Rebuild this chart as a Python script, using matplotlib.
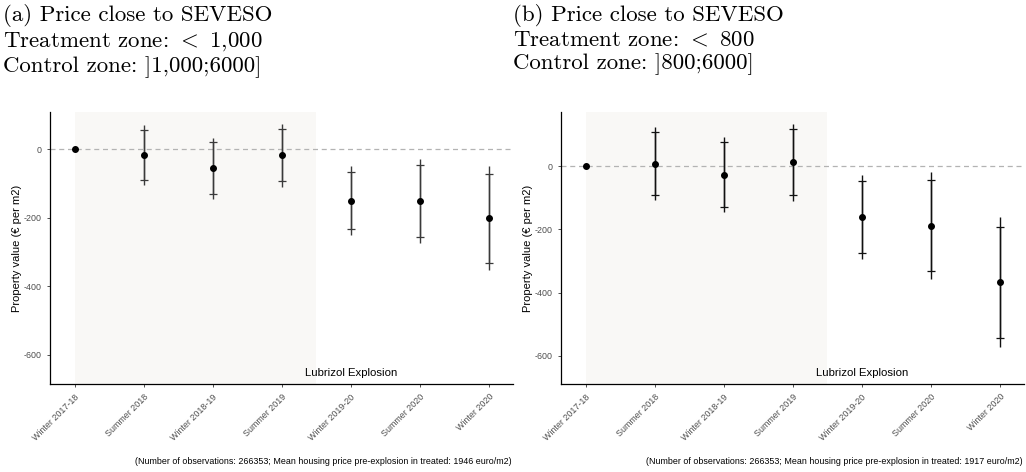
import numpy as np
import matplotlib
matplotlib.use("Agg")
import matplotlib.pyplot as plt

plt.rcParams["font.family"] = ["Liberation Sans", "DejaVu Sans"]
plt.rcParams["mathtext.fontset"] = "cm"

periods = ["Winter 2017-18", "Summer 2018", "Winter 2018-19", "Summer 2019",
           "Winter 2019-20", "Summer 2020", "Winter 2020"]

# panel (a): < 1,000 vs ]1,000;6000]
est_a = [0, -16, -55, -16, -150, -151, -201]
ci95_lo_a = [0, -90, -130, -93, -234, -256, -331]
ci95_hi_a = [0, 57, 20, 60, -65, -46, -71]
ci99_lo_a = [0, -104, -145, -109, -250, -273, -353]
ci99_hi_a = [0, 72, 34, 74, -50, -28, -50]

# panel (b): < 800 vs ]800;6000]
est_b = [0, 8, -27, 12, -160, -188, -367]
ci95_lo_b = [0, -91, -128, -93, -276, -333, -543]
ci95_hi_b = [0, 107, 75, 116, -46, -44, -192]
ci99_lo_b = [0, -108, -145, -110, -295, -357, -573]
ci99_hi_b = [0, 124, 92, 134, -27, -19, -162]

titles = ["(a) Price close to SEVESO\nTreatment zone: $<$ 1,000\nControl zone: ]1,000;6000]",
          "(b) Price close to SEVESO\nTreatment zone: $<$ 800\nControl zone: ]800;6000]"]
captions = ["(Number of observations: 266353; Mean housing price pre-explosion in treated: 1946 euro/m2)",
            "(Number of observations: 266353; Mean housing price pre-explosion in treated: 1917 euro/m2)"]

fig = plt.figure(figsize=(10.26, 4.72), dpi=100)
W, H = 1026, 472

panels = [
    dict(left=50, right=513, ylim=(-686, 109), est=est_a, lo95=ci95_lo_a, hi95=ci95_hi_a,
         lo99=ci99_lo_a, hi99=ci99_hi_a, col="#3a3a3a", tx=3),
    dict(left=561, right=1024, ylim=(-689, 171), est=est_b, lo95=ci95_lo_b, hi95=ci95_hi_b,
         lo99=ci99_lo_b, hi99=ci99_hi_b, col="#111111", tx=513),
]

for i, p in enumerate(panels):
    top, bottom = 112, 384
    ax = fig.add_axes([p["left"] / W, (H - bottom) / H, (p["right"] - p["left"]) / W, (bottom - top) / H])
    x = np.arange(len(periods))
    est = np.array(p["est"])
    ax.axvspan(0, 3.5, color="#f9f8f6", zorder=0, lw=0)
    ax.axhline(0, color="#b3b3b3", ls=(0, (4, 3)), lw=0.9, zorder=1)
    ax.vlines(x[1:], np.array(p["lo99"])[1:], np.array(p["hi99"])[1:], color=p["col"], lw=1.0, zorder=2)
    ax.errorbar(x[1:], est[1:], yerr=[est[1:] - np.array(p["lo95"])[1:], np.array(p["hi95"])[1:] - est[1:]],
                fmt="none", ecolor=p["col"], elinewidth=1.0, capsize=3.2, capthick=0.9, zorder=2)
    ax.plot(x, est, "o", color="black", ms=4.0, zorder=3)
    ax.text(4, -653, "Lubrizol Explosion", ha="center", va="center", fontsize=8.2)

    ax.set_xlim(-0.36, 6.35)
    ax.set_ylim(*p["ylim"])
    ax.set_xticks(x)
    ax.set_xticklabels(periods, rotation=45, ha="right", rotation_mode="anchor")
    ax.set_yticks([-600, -400, -200, 0])
    ax.set_yticklabels(["-600", "-400", "-200", "0"])
    ax.tick_params(labelsize=6.4, labelcolor="#4d4d4d", length=2.5, width=0.6, color="#333333")
    ax.set_ylabel("Property value (€ per m2)", fontsize=8, labelpad=1.5)
    for s in ["top", "right"]:
        ax.spines[s].set_visible(False)
    for s in ["left", "bottom"]:
        ax.spines[s].set_linewidth(0.9)

    fig.text(p["tx"] / W, 1 - 4 / H, titles[i], ha="left", va="top", fontsize=16.5,
             family="cmr10", linespacing=1.2)
    fig.text(p["right"] / W - 0.001, 1 - 462 / H, captions[i], ha="right", va="center", fontsize=6.4)

fig.savefig("out.png", dpi=100)
